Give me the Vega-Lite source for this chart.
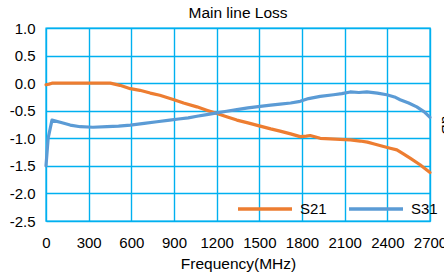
{
  "$schema": "https://vega.github.io/schema/vega-lite/v6.json",
  "width": 384,
  "height": 193,
  "autosize": {"type": "none"},
  "padding": {"left": 46, "top": 28, "right": 14, "bottom": 54},
  "title": {"text": "Main line Loss", "fontSize": 15.5, "font": "Liberation Sans", "fontWeight": "normal", "color": "#000000", "offset": 0},
  "config": {
    "view": {"stroke": "#00B0F0", "strokeWidth": 1.4},
    "font": "Liberation Sans"
  },
  "datasets": {
    "curves": [
      {"f": 0, "v": -0.03, "s": "S21"},
      {"f": 20, "v": -0.02, "s": "S21"},
      {"f": 42, "v": 0.0, "s": "S21"},
      {"f": 150, "v": 0.0, "s": "S21"},
      {"f": 300, "v": 0.0, "s": "S21"},
      {"f": 452, "v": 0.0, "s": "S21"},
      {"f": 520, "v": -0.04, "s": "S21"},
      {"f": 593, "v": -0.1, "s": "S21"},
      {"f": 660, "v": -0.13, "s": "S21"},
      {"f": 733, "v": -0.18, "s": "S21"},
      {"f": 800, "v": -0.22, "s": "S21"},
      {"f": 850, "v": -0.26, "s": "S21"},
      {"f": 900, "v": -0.3, "s": "S21"},
      {"f": 967, "v": -0.36, "s": "S21"},
      {"f": 1061, "v": -0.43, "s": "S21"},
      {"f": 1130, "v": -0.49, "s": "S21"},
      {"f": 1202, "v": -0.55, "s": "S21"},
      {"f": 1270, "v": -0.61, "s": "S21"},
      {"f": 1342, "v": -0.67, "s": "S21"},
      {"f": 1420, "v": -0.72, "s": "S21"},
      {"f": 1506, "v": -0.78, "s": "S21"},
      {"f": 1580, "v": -0.83, "s": "S21"},
      {"f": 1646, "v": -0.87, "s": "S21"},
      {"f": 1720, "v": -0.92, "s": "S21"},
      {"f": 1787, "v": -0.97, "s": "S21"},
      {"f": 1830, "v": -0.96, "s": "S21"},
      {"f": 1857, "v": -0.95, "s": "S21"},
      {"f": 1928, "v": -1.0, "s": "S21"},
      {"f": 2000, "v": -1.01, "s": "S21"},
      {"f": 2068, "v": -1.02, "s": "S21"},
      {"f": 2140, "v": -1.03, "s": "S21"},
      {"f": 2209, "v": -1.05, "s": "S21"},
      {"f": 2260, "v": -1.07, "s": "S21"},
      {"f": 2302, "v": -1.1, "s": "S21"},
      {"f": 2360, "v": -1.14, "s": "S21"},
      {"f": 2420, "v": -1.18, "s": "S21"},
      {"f": 2467, "v": -1.21, "s": "S21"},
      {"f": 2510, "v": -1.28, "s": "S21"},
      {"f": 2560, "v": -1.36, "s": "S21"},
      {"f": 2630, "v": -1.48, "s": "S21"},
      {"f": 2700, "v": -1.62, "s": "S21"},
      {"f": 0, "v": -1.5, "s": "S31"},
      {"f": 15, "v": -1.0, "s": "S31"},
      {"f": 42, "v": -0.67, "s": "S31"},
      {"f": 100, "v": -0.71, "s": "S31"},
      {"f": 170, "v": -0.76, "s": "S31"},
      {"f": 241, "v": -0.79, "s": "S31"},
      {"f": 330, "v": -0.8, "s": "S31"},
      {"f": 429, "v": -0.79, "s": "S31"},
      {"f": 510, "v": -0.78, "s": "S31"},
      {"f": 593, "v": -0.76, "s": "S31"},
      {"f": 690, "v": -0.73, "s": "S31"},
      {"f": 780, "v": -0.7, "s": "S31"},
      {"f": 870, "v": -0.67, "s": "S31"},
      {"f": 932, "v": -0.65, "s": "S31"},
      {"f": 1000, "v": -0.63, "s": "S31"},
      {"f": 1061, "v": -0.6, "s": "S31"},
      {"f": 1130, "v": -0.57, "s": "S31"},
      {"f": 1202, "v": -0.54, "s": "S31"},
      {"f": 1270, "v": -0.51, "s": "S31"},
      {"f": 1342, "v": -0.48, "s": "S31"},
      {"f": 1420, "v": -0.45, "s": "S31"},
      {"f": 1506, "v": -0.42, "s": "S31"},
      {"f": 1580, "v": -0.4, "s": "S31"},
      {"f": 1646, "v": -0.38, "s": "S31"},
      {"f": 1720, "v": -0.36, "s": "S31"},
      {"f": 1787, "v": -0.33, "s": "S31"},
      {"f": 1846, "v": -0.28, "s": "S31"},
      {"f": 1928, "v": -0.24, "s": "S31"},
      {"f": 2022, "v": -0.21, "s": "S31"},
      {"f": 2080, "v": -0.19, "s": "S31"},
      {"f": 2139, "v": -0.16, "s": "S31"},
      {"f": 2200, "v": -0.17, "s": "S31"},
      {"f": 2256, "v": -0.16, "s": "S31"},
      {"f": 2330, "v": -0.18, "s": "S31"},
      {"f": 2396, "v": -0.21, "s": "S31"},
      {"f": 2450, "v": -0.25, "s": "S31"},
      {"f": 2490, "v": -0.3, "s": "S31"},
      {"f": 2550, "v": -0.36, "s": "S31"},
      {"f": 2607, "v": -0.43, "s": "S31"},
      {"f": 2660, "v": -0.52, "s": "S31"},
      {"f": 2700, "v": -0.62, "s": "S31"}
    ]
  },
  "data": {"name": "curves"},
  "layer": [
    {
      "mark": {"type": "line", "strokeWidth": 3.2, "strokeCap": "round", "strokeJoin": "round"},
      "encoding": {
        "x": {
          "field": "f", "type": "quantitative",
          "scale": {"domain": [0, 2700], "nice": false, "zero": false},
          "axis": {
            "values": [0, 300, 600, 900, 1200, 1500, 1800, 2100, 2400, 2700],
            "format": "d",
            "title": "Frequency(MHz)",
            "titleFont": "Liberation Sans", "titleFontSize": 15.5, "titleFontWeight": "normal", "titleColor": "#000000",
            "titlePadding": 6,
            "labelFont": "Liberation Sans", "labelFontSize": 15, "labelColor": "#000000",
            "labelPadding": 14, "ticks": false, "domain": false,
            "grid": true, "gridColor": "#00B0F0", "gridWidth": 1.4, "gridOpacity": 1,
            "labelFlush": false, "labelOverlap": false
          }
        },
        "y": {
          "field": "v", "type": "quantitative",
          "scale": {"domain": [-2.5, 1.0], "nice": false, "zero": false},
          "axis": {
            "values": [1.0, 0.5, 0.0, -0.5, -1.0, -1.5, -2.0, -2.5],
            "labelExpr": "replace(format(datum.value, '.1f'), '\u2212', '-')",
            "title": null,
            "labelFont": "Liberation Sans", "labelFontSize": 15, "labelColor": "#000000",
            "labelPadding": 11, "ticks": false, "domain": false,
            "grid": true, "gridColor": "#00B0F0", "gridWidth": 1.4, "gridOpacity": 1,
            "labelFlush": false, "labelOverlap": false
          }
        },
        "color": {
          "field": "s", "type": "nominal",
          "scale": {"domain": ["S21", "S31"], "range": ["#ED7D31", "#5B9BD5"]},
          "legend": {
            "title": null,
            "orient": "none",
            "direction": "horizontal",
            "legendX": 190,
            "legendY": 152,
            "padding": 0,
            "symbolType": "stroke",
            "symbolSize": 2916,
            "symbolStrokeWidth": 3.5,
            "labelFont": "Liberation Sans",
            "labelFontSize": 15,
            "labelColor": "#000000",
            "labelOffset": 6,
            "columnPadding": 15
          }
        }
      }
    },
    {
      "mark": {"type": "line", "opacity": 0},
      "encoding": {
        "x": {"field": "f", "type": "quantitative"},
        "y": {
          "field": "v", "type": "quantitative",
          "axis": {
            "orient": "right", "title": "dB", "titleAngle": 90,
            "titleFont": "Liberation Sans", "titleFontSize": 15, "titleFontWeight": "normal", "titleColor": "#000000",
            "labels": false, "ticks": false, "domain": false, "grid": false,
            "titlePadding": 8
          }
        }
      }
    }
  ],
  "resolve": {"axis": {"y": "independent"}}
}
